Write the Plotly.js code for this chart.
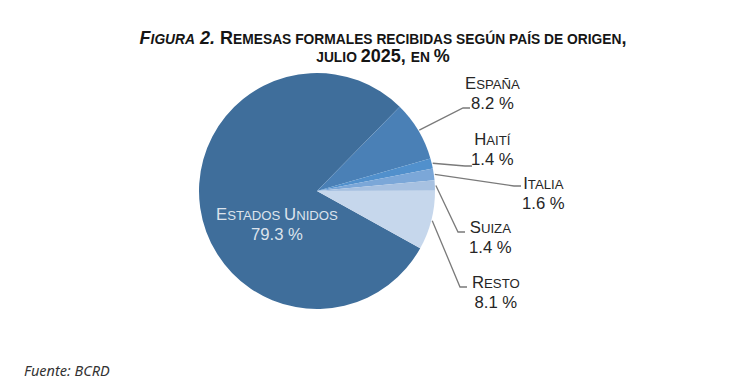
<!DOCTYPE html>
<html><head><meta charset="utf-8">
<script src="https://cdn.plot.ly/plotly-3.0.1.min.js"></script>
<style>html,body{margin:0;padding:0;background:#fff}</style>
</head><body><div id="chart" style="width:733px;height:383px"></div>
<script>
// ---- data ----
const categories = ['Estados Unidos', 'España', 'Haití', 'Italia', 'Suiza', 'Resto'];
const values = [79.3, 8.2, 1.4, 1.6, 1.4, 8.1];
const valueLabels = ['79.3 %', '8.2 %', '1.4 %', '1.6 %', '1.4 %', '8.1 %'];
const colors = ['#3F6E9B', '#4A80B6', '#5190CC', '#7BA7D8', '#A7C1E1', '#C6D7EC'];
const titleLine1 = 'Remesas formales recibidas según país de origen,';
const titleLine2 = 'julio 2025, en %';
const sourceText = 'Fuente: BCRD';

// ---- layout constants (pixels) ----
const W = 733, H = 383;
const CX = 317, CY = 191, R = 118;
const ROT = 119;
// label centre x, label block centre y, elbow of leader line
const labelCX = [277, 492, 492, 543, 490, 496];
const labelCY = [224, 93, 150, 193, 237, 292];
const elbowX = [null, 463, 465, 514, 458, 460];
const elbowY = [null, 108, 166, 186, 232, 287];

const px = x => x / W;
const py = y => 1 - y / H;

function sc(str, big, small) {
  // small caps: lowercase letters -> smaller uppercase
  let out = '', run = '', runSmall = null;
  const flush = () => {
    if (!run) return;
    out += runSmall ? '<span style="font-size:' + small + 'px">' + run.toUpperCase() + '</span>'
                    : '<span style="font-size:' + big + 'px">' + run + '</span>';
    run = '';
  };
  for (const ch of str) {
    let isSmall;
    if (ch === ' ') isSmall = runSmall === null ? false : runSmall;
    else isSmall = ch !== ch.toUpperCase();
    if (runSmall !== null && isSmall !== runSmall) flush();
    runSmall = isSmall;
    run += ch;
  }
  flush();
  return out;
}

const BIG = 16.7, SMALL = 13.2;
const TB = 18, TS = 13.8;

const total = values.reduce((a, b) => a + b, 0);
let cum = 0;
const midAngles = values.map(v => {
  const a = ROT + 360 * (cum + v / 2) / total;
  cum += v;
  return a;
});

const annotations = [];
const shapes = [];
categories.forEach((c, i) => {
  const txt = sc(c, BIG, SMALL) + '<br>' + '<span style="font-size:' + BIG + 'px">' + valueLabels[i] + '</span>';
  annotations.push({
    xref: 'paper', yref: 'paper', x: px(labelCX[i]), y: py(labelCY[i]),
    xanchor: 'center', yanchor: 'middle', align: 'center', showarrow: false,
    text: txt,
    font: {family: 'Liberation Sans, Arial, sans-serif', size: 15.4, color: i === 0 ? '#DCE3EC' : '#262626'}
  });
  if (i > 0) {
    const t = midAngles[i] * Math.PI / 180;
    const sx = CX + (R + 1) * Math.sin(t), sy = CY - (R + 1) * Math.cos(t);
    const ex = elbowX[i], ey = elbowY[i];
    shapes.push({
      type: 'path', xref: 'paper', yref: 'paper',
      path: 'M' + px(sx) + ',' + py(sy) + ' L' + px(ex) + ',' + py(ey) + ' L' + px(ex + 7) + ',' + py(ey),
      line: {color: '#7A7A7A', width: 1.3}
    });
  }
});

annotations.push({
  xref: 'paper', yref: 'paper', x: px(22), y: py(370), xanchor: 'left', yanchor: 'middle',
  showarrow: false, text: '<i>' + sourceText + '</i>',
  font: {family: 'Noto Sans, Open Sans, sans-serif', size: 14.5, color: '#333333'}
});

const titleText = '<b><i>' + sc('Figura', TB, TS) + '<span style="font-size:' + TB + 'px"> 2.</span></i>' +
  sc(' ' + titleLine1, TB, TS) + '<br>' + sc(titleLine2, TB, TS) + '</b>';

const trace = {
  type: 'pie',
  labels: categories,
  values: values,
  sort: false,
  direction: 'clockwise',
  rotation: ROT,
  marker: {colors: colors, line: {width: 0}},
  textinfo: 'none',
  hoverinfo: 'label+value',
  showlegend: false,
  domain: {x: [px(CX - R), px(CX + R)], y: [py(CY + R), py(CY - R)]}
};

const layout = {
  width: W, height: H,
  margin: {l: 0, r: 0, t: 0, b: 0},
  paper_bgcolor: '#ffffff',
  title: {
    text: titleText,
    x: px(383), xanchor: 'center', xref: 'container',
    y: py(44), yanchor: 'top', yref: 'container',
    font: {family: 'Liberation Sans, Arial, sans-serif', size: 13.6, color: '#151515'}
  },
  annotations: annotations,
  shapes: shapes,
  showlegend: false
};

Plotly.newPlot('chart', [trace], layout, {staticPlot: true});
</script>
</body></html>
